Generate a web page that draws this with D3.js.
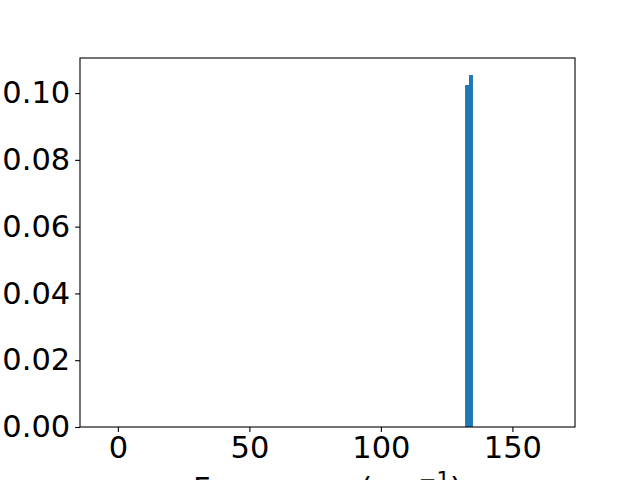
<!DOCTYPE html>
<html>
<head>
<meta charset="utf-8">
<script src="https://cdn.jsdelivr.net/npm/d3@7"></script>
<style>
  body { margin: 0; background: #fff; }
  svg { display: block; }
  text { font-family: "DejaVu Sans", sans-serif; }
</style>
</head>
<body>
<div id="chart"></div>
<script>
//Histogram bins (frequency in cm^-1) and their heights
var binStarts = [132.0, 133.5];
var binEnds = [133.5, 135.0];
var binValues = [0.1024, 0.1054];

//Axis ticks
var xTicks = [0, 50, 100, 150];
var yTicks = [0.00, 0.02, 0.04, 0.06, 0.08, 0.10];
var xLabel = "Frequency (cm";
var xLabelSup = "\u22121";

//Layout
var width = 640, height = 480;
var plot = { left: 80, right: 575, top: 58, bottom: 427 };
var fontSize = 30.5;

var svg = d3.select("#chart")
    .append("svg")
        .attr("width", width)
        .attr("height", height);

var x = d3.scaleLinear()
    .domain([-14.4, 173.8])
    .range([plot.left, plot.right]);

var y = d3.scaleLinear()
    .domain([0, 0.1105])
    .range([plot.bottom, plot.top]);

//Bars
var bins = binValues.map(function(v, i) {
    return { x0: binStarts[i], x1: binEnds[i], value: v };
});

svg.append("g")
    .selectAll("rect")
    .data(bins)
    .enter()
    .append("rect")
        .attr("x", function(d) { return x(d.x0); })
        .attr("width", function(d) { return x(d.x1) - x(d.x0); })
        .attr("y", function(d) { return y(d.value); })
        .attr("height", function(d) { return y(0) - y(d.value); })
        .attr("fill", "#1f77b4");

//Axes
var xAxis = svg.append("g")
    .attr("transform", "translate(0," + plot.bottom + ")")
    .call(d3.axisBottom(x).tickValues(xTicks).tickFormat(d3.format("d"))
        .tickSizeInner(4.9).tickSizeOuter(0).tickPadding(4.9));

var yAxis = svg.append("g")
    .attr("transform", "translate(" + plot.left + ",0)")
    .call(d3.axisLeft(y).tickValues(yTicks).tickFormat(d3.format(".2f"))
        .tickSizeInner(4.9).tickSizeOuter(0).tickPadding(4.9));

[xAxis, yAxis].forEach(function(a) {
    a.select(".domain").remove();
    a.selectAll("line").attr("stroke", "#000").attr("stroke-width", 1.1);
    a.selectAll("text")
        .attr("font-size", fontSize)
        .attr("font-family", "DejaVu Sans")
        .attr("fill", "#000");
});

//Frame
svg.append("rect")
    .attr("x", plot.left)
    .attr("y", plot.top)
    .attr("width", plot.right - plot.left)
    .attr("height", plot.bottom - plot.top)
    .attr("fill", "none")
    .attr("stroke", "#000")
    .attr("stroke-width", 1.1);

//X label (mostly cut off at the bottom edge)
var lbl = svg.append("text")
    .attr("x", (plot.left + plot.right) / 2)
    .attr("y", 499)
    .attr("text-anchor", "middle")
    .attr("font-size", fontSize)
    .text(xLabel);
lbl.append("tspan")
    .attr("dy", -12)
    .attr("font-size", fontSize * 0.7)
    .text(xLabelSup);
lbl.append("tspan")
    .attr("dy", 12)
    .text(")");
</script>
</body>
</html>
